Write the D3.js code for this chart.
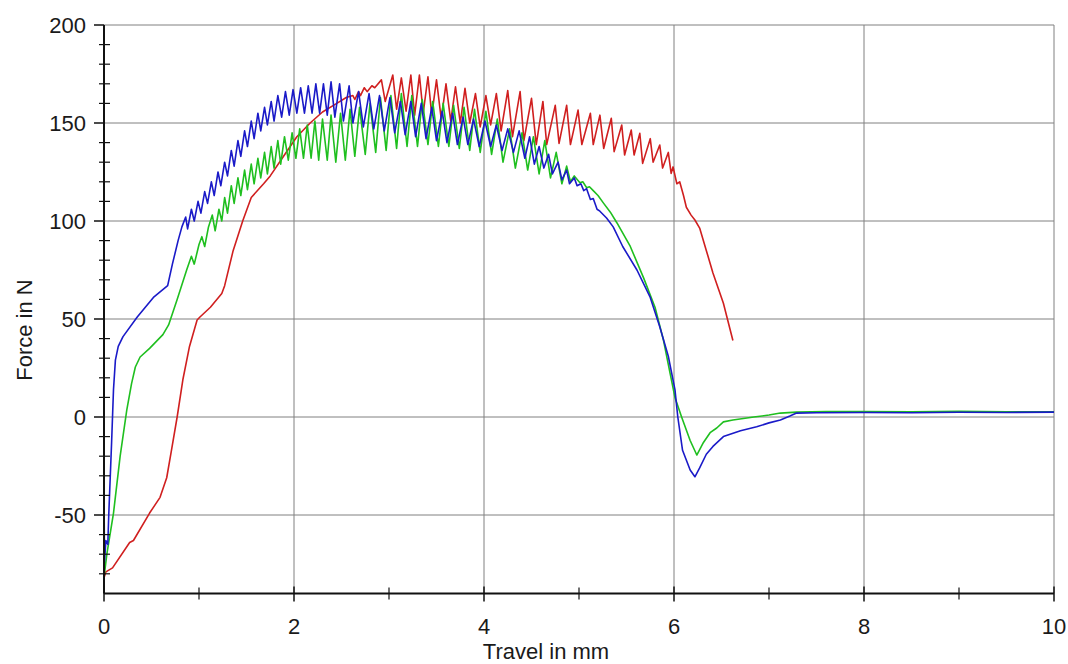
<!DOCTYPE html>
<html>
<head>
<meta charset="utf-8">
<script src="https://cdn.jsdelivr.net/npm/d3@7"></script>
<style>
  body { margin: 0; background: #fff; }
  svg { display: block; font-family: "Liberation Sans", Arial, sans-serif; }
</style>
</head>
<body>
<svg id="chart" width="1068" height="664"></svg>
<script>
// tick labels
var xTicks = [0, 2, 4, 6, 8, 10];
var xMinorTicks = [1, 3, 5, 7, 9];
var yTicks = [-50, 0, 50, 100, 150, 200];
var yMinorTicks = [-80, -70, -60, -40, -30, -20, -10, 10, 20, 30, 40, 60, 70, 80, 90,
                   110, 120, 130, 140, 160, 170, 180, 190];

// series: [travel mm, force N]
var redCurve = [
  [0, -82], [0.02, -79], [0.09, -77], [0.27, -64], [0.31, -63], [0.48, -49], [0.59, -41],
  [0.66, -31], [0.71, -17], [0.77, 0], [0.83, 19], [0.9, 36], [0.98, 49.5], [1.01, 51],
  [1.12, 56], [1.24, 63], [1.27, 67], [1.36, 85], [1.46, 100], [1.55, 112], [1.68, 119],
  [1.75, 123], [1.89, 133], [2.03, 143], [2.17, 150], [2.3, 155.6], [2.45, 160], [2.55, 163],
  [2.62, 164], [2.64, 162], [2.68, 166], [2.7, 164], [2.74, 168], [2.77, 166], [2.82, 169],
  [2.85, 168], [2.92, 172], [2.96, 161], [3.04, 174.5], [3.08, 157], [3.13, 173], [3.18, 156],
  [3.23, 174.5], [3.27, 154], [3.32, 174.5], [3.36, 155], [3.41, 173.6], [3.45, 154],
  [3.5, 172], [3.55, 152], [3.6, 170], [3.65, 151], [3.7, 168.5], [3.75, 150], [3.8, 167.7],
  [3.85, 150], [3.91, 165], [3.96, 148], [4.02, 164], [4.07, 149], [4.13, 165], [4.18, 146],
  [4.25, 166.5], [4.3, 143], [4.38, 166], [4.42, 141], [4.5, 162.6], [4.55, 139], [4.62, 161],
  [4.66, 139], [4.75, 159], [4.79, 139.6], [4.87, 159], [4.91, 139], [4.99, 156.6], [5.03, 139],
  [5.12, 155], [5.15, 139], [5.22, 154], [5.26, 137], [5.34, 152.4], [5.37, 135.4], [5.45, 149],
  [5.48, 133.7], [5.55, 146.4], [5.58, 133.7], [5.64, 144.7], [5.67, 129.4], [5.75, 142],
  [5.78, 130], [5.85, 138.8], [5.88, 127], [5.94, 135], [5.97, 124.3], [5.99, 127.6],
  [6.03, 119], [6.06, 120], [6.1, 113], [6.13, 107], [6.18, 103], [6.22, 100.5], [6.27, 96.4],
  [6.34, 85], [6.41, 73.5], [6.52, 58], [6.62, 39]
];

var greenCurve = [
  [0, -82], [0.03, -70], [0.1, -49], [0.17, -20], [0.24, 3.6], [0.29, 17], [0.33, 25.5],
  [0.38, 30.6], [0.48, 35], [0.62, 42], [0.68, 47], [0.77, 60], [0.87, 75], [0.92, 82],
  [0.95, 78], [1.0, 88], [1.03, 92], [1.06, 87], [1.1, 97], [1.14, 103], [1.17, 95],
  [1.21, 106], [1.24, 100], [1.27, 112], [1.3, 104], [1.34, 118], [1.37, 109], [1.41, 122],
  [1.44, 113], [1.48, 126], [1.51, 116], [1.55, 129], [1.58, 119], [1.62, 132], [1.65, 122],
  [1.69, 135], [1.72, 124], [1.76, 138], [1.79, 127], [1.83, 141], [1.86, 129], [1.9, 143],
  [1.94, 131], [1.98, 145], [2.02, 132], [2.06, 147], [2.1, 132], [2.14, 149], [2.18, 132],
  [2.22, 151], [2.26, 131], [2.3, 152], [2.35, 131], [2.39, 154], [2.44, 130], [2.49, 155],
  [2.54, 131], [2.59, 157], [2.64, 133], [2.69, 158], [2.75, 134], [2.8, 160], [2.86, 135],
  [2.91, 163], [2.97, 136], [3.02, 164], [3.08, 137], [3.13, 165], [3.19, 138], [3.24, 164],
  [3.3, 138], [3.35, 162], [3.41, 139], [3.46, 161], [3.52, 138], [3.57, 160], [3.63, 138],
  [3.68, 159], [3.74, 137], [3.79, 158], [3.85, 136], [3.9, 157], [3.96, 135], [4.02, 156],
  [4.08, 134], [4.14, 152], [4.2, 130], [4.27, 147], [4.33, 127], [4.4, 145], [4.46, 126],
  [4.52, 143], [4.58, 124], [4.64, 141], [4.7, 122], [4.76, 135], [4.82, 119], [4.87, 128],
  [4.91, 120], [4.95, 123], [5.01, 119.5], [5.04, 120], [5.08, 117], [5.11, 117.5],
  [5.15, 115.5], [5.2, 113], [5.26, 109], [5.33, 104.5], [5.4, 99], [5.54, 87],
  [5.68, 71], [5.8, 56], [5.89, 39], [5.96, 22], [6.01, 10], [6.08, 0], [6.17, -12],
  [6.24, -19.4], [6.31, -13], [6.38, -8], [6.45, -5.6], [6.52, -2.5], [6.62, -1.5], [6.84, 0],
  [7.0, 1], [7.12, 2], [7.29, 2.5], [7.6, 2.8], [8, 2.8], [8.5, 2.7], [9, 2.9], [9.5, 2.7],
  [10, 2.6]
];

var blueCurve = [
  [0, -35], [0.005, -74], [0.02, -63], [0.04, -65], [0.05, -50], [0.08, -13], [0.1, 14],
  [0.12, 29], [0.15, 36], [0.2, 41], [0.35, 51], [0.52, 61], [0.67, 67], [0.72, 78],
  [0.78, 90], [0.82, 97], [0.86, 102], [0.88, 96], [0.92, 106], [0.95, 100], [0.99, 110],
  [1.02, 104], [1.06, 115], [1.09, 109], [1.13, 120], [1.16, 113], [1.2, 125], [1.23, 118],
  [1.27, 130], [1.3, 123], [1.34, 136], [1.37, 128], [1.41, 141], [1.44, 133], [1.48, 146],
  [1.51, 138], [1.55, 151], [1.58, 142], [1.62, 155], [1.65, 146], [1.69, 158], [1.72, 149],
  [1.76, 161], [1.79, 151], [1.83, 164], [1.87, 153], [1.91, 166], [1.95, 154], [1.99, 167],
  [2.03, 155], [2.07, 168], [2.11, 155], [2.15, 169], [2.19, 155], [2.23, 170], [2.27, 155],
  [2.31, 170], [2.35, 154], [2.39, 171], [2.43, 153], [2.48, 170], [2.52, 151], [2.58, 169],
  [2.62, 150], [2.68, 166], [2.73, 148], [2.79, 165], [2.84, 147], [2.9, 164], [2.95, 146],
  [3.01, 163], [3.06, 145], [3.12, 161], [3.17, 144], [3.23, 161], [3.28, 143], [3.34, 160],
  [3.39, 142], [3.45, 158], [3.5, 141], [3.56, 156], [3.61, 140], [3.67, 155], [3.72, 139],
  [3.78, 153], [3.83, 139], [3.89, 152], [3.95, 138], [4.01, 151], [4.07, 138], [4.13, 149],
  [4.19, 136], [4.25, 147], [4.31, 135], [4.37, 146], [4.43, 132], [4.48, 143], [4.53, 129],
  [4.58, 138], [4.63, 127], [4.68, 134], [4.72, 124], [4.78, 130], [4.82, 121], [4.87, 126],
  [4.9, 119], [4.95, 122], [4.98, 118], [5.02, 119], [5.05, 115.5], [5.08, 116.5],
  [5.12, 111], [5.15, 111.5], [5.19, 106], [5.22, 105], [5.29, 101.5], [5.36, 97],
  [5.46, 87], [5.61, 75], [5.75, 61], [5.85, 46], [5.94, 31], [6.01, 14], [6.04, 0],
  [6.09, -17], [6.17, -27], [6.22, -30.5], [6.27, -26], [6.34, -19], [6.41, -15], [6.52, -10],
  [6.7, -7], [6.87, -5], [7.0, -3], [7.12, -1.5], [7.22, 0.5], [7.29, 2], [7.5, 2.2],
  [8, 2.3], [8.5, 2.2], [9, 2.4], [9.5, 2.3], [10, 2.5]
];

var svg = d3.select("#chart");

var x = d3.scaleLinear().domain([0, 10]).range([104, 1054]);
var y = d3.scaleLinear().domain([-90, 200]).range([593.4, 25]);

// grid
var grid = svg.append("g");
grid.selectAll("line.gx")
    .data(xTicks.slice(1))
    .enter().append("line")
    .attr("x1", d => x(d)).attr("x2", d => x(d))
    .attr("y1", y(200)).attr("y2", y(-90))
    .attr("stroke", "#808080").attr("stroke-width", 1);
grid.selectAll("line.gy")
    .data(yTicks)
    .enter().append("line")
    .attr("x1", x(0)).attr("x2", x(10))
    .attr("y1", d => y(d)).attr("y2", d => y(d))
    .attr("stroke", "#808080").attr("stroke-width", 1);

// curves
var line = d3.line()
    .x(d => x(d[0]))
    .y(d => y(d[1]));

var series = [
    {data: redCurve, color: "#d01f1f"},
    {data: greenCurve, color: "#1fbf1f"},
    {data: blueCurve, color: "#1a1ac8"}
];

svg.append("g")
    .selectAll("path")
    .data(series)
    .enter().append("path")
    .attr("d", d => line(d.data))
    .attr("fill", "none")
    .attr("stroke", d => d.color)
    .attr("stroke-width", 1.6)
    .attr("stroke-linejoin", "round");

// axes
var axes = svg.append("g").attr("stroke", "#111");
axes.append("line")
    .attr("x1", x(0)).attr("x2", x(0))
    .attr("y1", y(200)).attr("y2", y(-90))
    .attr("stroke-width", 2);
axes.append("line")
    .attr("x1", x(0)).attr("x2", x(10))
    .attr("y1", y(-90)).attr("y2", y(-90))
    .attr("stroke-width", 2);

axes.selectAll("line.ymaj")
    .data(yTicks)
    .enter().append("line")
    .attr("x1", x(0) - 10).attr("x2", x(0))
    .attr("y1", d => y(d)).attr("y2", d => y(d))
    .attr("stroke-width", 1.5);
axes.selectAll("line.ymin")
    .data(yMinorTicks)
    .enter().append("line")
    .attr("x1", x(0) - 5).attr("x2", x(0) + 6)
    .attr("y1", d => y(d)).attr("y2", d => y(d))
    .attr("stroke-width", 1.2);

axes.selectAll("line.xmaj")
    .data(xTicks)
    .enter().append("line")
    .attr("x1", d => x(d)).attr("x2", d => x(d))
    .attr("y1", y(-90) - 7).attr("y2", y(-90) + 8)
    .attr("stroke-width", 1.5);
axes.selectAll("line.xmin")
    .data(xMinorTicks)
    .enter().append("line")
    .attr("x1", d => x(d)).attr("x2", d => x(d))
    .attr("y1", y(-90) - 6).attr("y2", y(-90) + 6)
    .attr("stroke-width", 1.2);

// tick labels
svg.append("g")
    .selectAll("text")
    .data(xTicks)
    .enter().append("text")
    .attr("x", d => x(d))
    .attr("y", 634)
    .attr("text-anchor", "middle")
    .attr("font-size", 22)
    .attr("fill", "#1a1a1a")
    .text(d => d);

svg.append("g")
    .selectAll("text")
    .data(yTicks)
    .enter().append("text")
    .attr("x", 86)
    .attr("y", d => y(d) + 8)
    .attr("text-anchor", "end")
    .attr("font-size", 22)
    .attr("fill", "#1a1a1a")
    .text(d => d);

// axis titles
svg.append("text")
    .attr("x", 546).attr("y", 659)
    .attr("text-anchor", "middle")
    .attr("font-size", 22)
    .attr("fill", "#1a1a1a")
    .text("Travel in mm");

svg.append("text")
    .attr("transform", "translate(32,330) rotate(-90)")
    .attr("text-anchor", "middle")
    .attr("font-size", 22)
    .attr("fill", "#1a1a1a")
    .text("Force in N");
</script>
</body>
</html>
